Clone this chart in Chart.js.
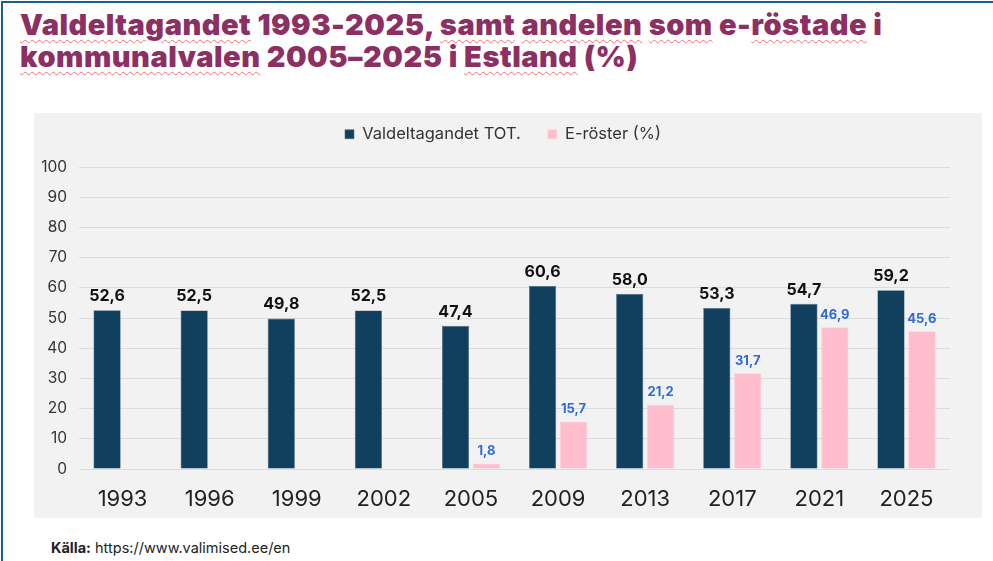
<!DOCTYPE html>
<html>
<head>
<meta charset="utf-8">
<script src="https://cdn.jsdelivr.net/npm/chart.js@4"></script>
<style>
  html, body { margin: 0; padding: 0; background: #fff; }
  body { width: 993px; height: 561px; position: relative; overflow: hidden; font-family: Inter, "Noto Sans", sans-serif; }
  .frame { position: absolute; left: 1px; top: 1px; width: 1000px; height: 600px; border-top: 2px solid #1c5f87; border-left: 2px solid #1c5f87; }
  .title { position: absolute; left: 20px; top: 9px; margin: 0; font-size: 29px; line-height: 32px; font-weight: 900; color: #8c2f63; letter-spacing: 0.5px; }
  .sp { text-decoration: underline wavy #f07070; text-decoration-thickness: 1px; text-underline-offset: 4px; }
  .panel { position: absolute; left: 34px; top: 113px; width: 948px; height: 405px; background: #f2f2f2; }
  .source { position: absolute; left: 51px; top: 539px; font-size: 14.5px; color: #222; }
  .source b { font-weight: 700; }
</style>
</head>
<body>
<div class="frame"></div>
<h1 class="title"><span class="sp">Valdeltagandet</span> 1993-2025, <span class="sp">samt</span> <span class="sp">andelen</span> <span class="sp">som</span> e-<span class="sp">röstade</span> i<br><span class="sp">kommunalvalen</span> 2005–2025 i <span class="sp">Estland</span> (%)</h1>
<div class="panel"><canvas id="evoChart" width="948" height="405"></canvas></div>
<div class="source"><b>Källa:</b> https://www.valimised.ee/en</div>
<script>
const years = ["1993", "1996", "1999", "2002", "2005", "2009", "2013", "2017", "2021", "2025"];
const turnout = [52.6, 52.5, 49.8, 52.5, 47.4, 60.6, 58.0, 53.3, 54.7, 59.2];
const eVotes = [null, null, null, null, 1.8, 15.7, 21.2, 31.7, 46.9, 45.6];
const yTicks = [0, 10, 20, 30, 40, 50, 60, 70, 80, 90, 100];

const labelColors = ["#111111", "#2f6bd6"];
const labelFonts = ["bold 16px Inter, sans-serif", "bold 13px Inter, sans-serif"];

// draws the value above each bar, with a decimal comma
const valueLabels = {
    id: "valueLabels",
    afterDatasetsDraw(chart) {
        const ctx = chart.ctx;
        chart.data.datasets.forEach((ds, i) => {
            const meta = chart.getDatasetMeta(i);
            meta.data.forEach((bar, j) => {
                const v = ds.data[j];
                if (v === null || v === undefined) return;
                ctx.save();
                ctx.font = labelFonts[i];
                ctx.fillStyle = labelColors[i];
                ctx.textAlign = "center";
                ctx.textBaseline = "bottom";
                ctx.fillText(v.toFixed(1).replace(".", ","), bar.x, bar.y - 6);
                ctx.restore();
            });
        });
    }
};

// fixed legend height so the plot area starts where it does in the original,
// and nudge it a little right (it sits over the plot, not the whole panel)
const legendSpace = {
    id: "legendSpace",
    beforeInit(chart) {
        const legend = chart.legend;
        const fit = legend.fit;
        const draw = legend.draw;
        legend.fit = function () {
            fit.bind(legend)();
            this.height = 68;
        };
        legend.draw = function () {
            chart.ctx.save();
            chart.ctx.translate(11, 0);
            draw.bind(legend)();
            chart.ctx.restore();
        };
    }
};

const ctx = document.getElementById("evoChart").getContext("2d");
new Chart(ctx, {
    type: "bar",
    data: {
        labels: years,
        datasets: [{
            label: "Valdeltagandet TOT.",
            data: turnout,
            backgroundColor: "#11405f",
            borderColor: "#4a6d86",
            borderWidth: 0.6,
            barPercentage: 0.88,
            categoryPercentage: 0.71
        }, {
            label: "E-röster (%)",
            data: eVotes,
            backgroundColor: "#ffbdcd",
            borderColor: "#ffd3de",
            borderWidth: 0.6,
            barPercentage: 0.88,
            categoryPercentage: 0.71
        }]
    },
    options: {
        responsive: false,
        animation: false,
        layout: { padding: { top: -14, left: 0, right: 32, bottom: 0 } },
        plugins: {
            legend: {
                position: "top",
                labels: {
                    boxWidth: 9,
                    boxHeight: 9,
                    padding: 27,
                    color: "#333",
                    font: { family: "Inter, sans-serif", size: 16.5 }
                }
            },
            tooltip: { enabled: false }
        },
        scales: {
            x: {
                grid: { display: false },
                border: { display: false },
                ticks: { color: "#222", padding: 9, font: { family: "Inter, sans-serif", size: 22 } },
                afterFit(axis) { axis.height = 49; }
            },
            y: {
                min: 0,
                max: 100,
                afterBuildTicks(axis) { axis.ticks = yTicks.map(v => ({ value: v })); },
                grid: { color: "#dcdcdc", drawTicks: false },
                border: { display: false },
                ticks: { color: "#333", padding: 12, font: { family: "Inter, sans-serif", size: 15.5 } },
                afterFit(axis) { axis.width = 45; }
            }
        }
    },
    plugins: [valueLabels, legendSpace]
});
</script>
</body>
</html>
